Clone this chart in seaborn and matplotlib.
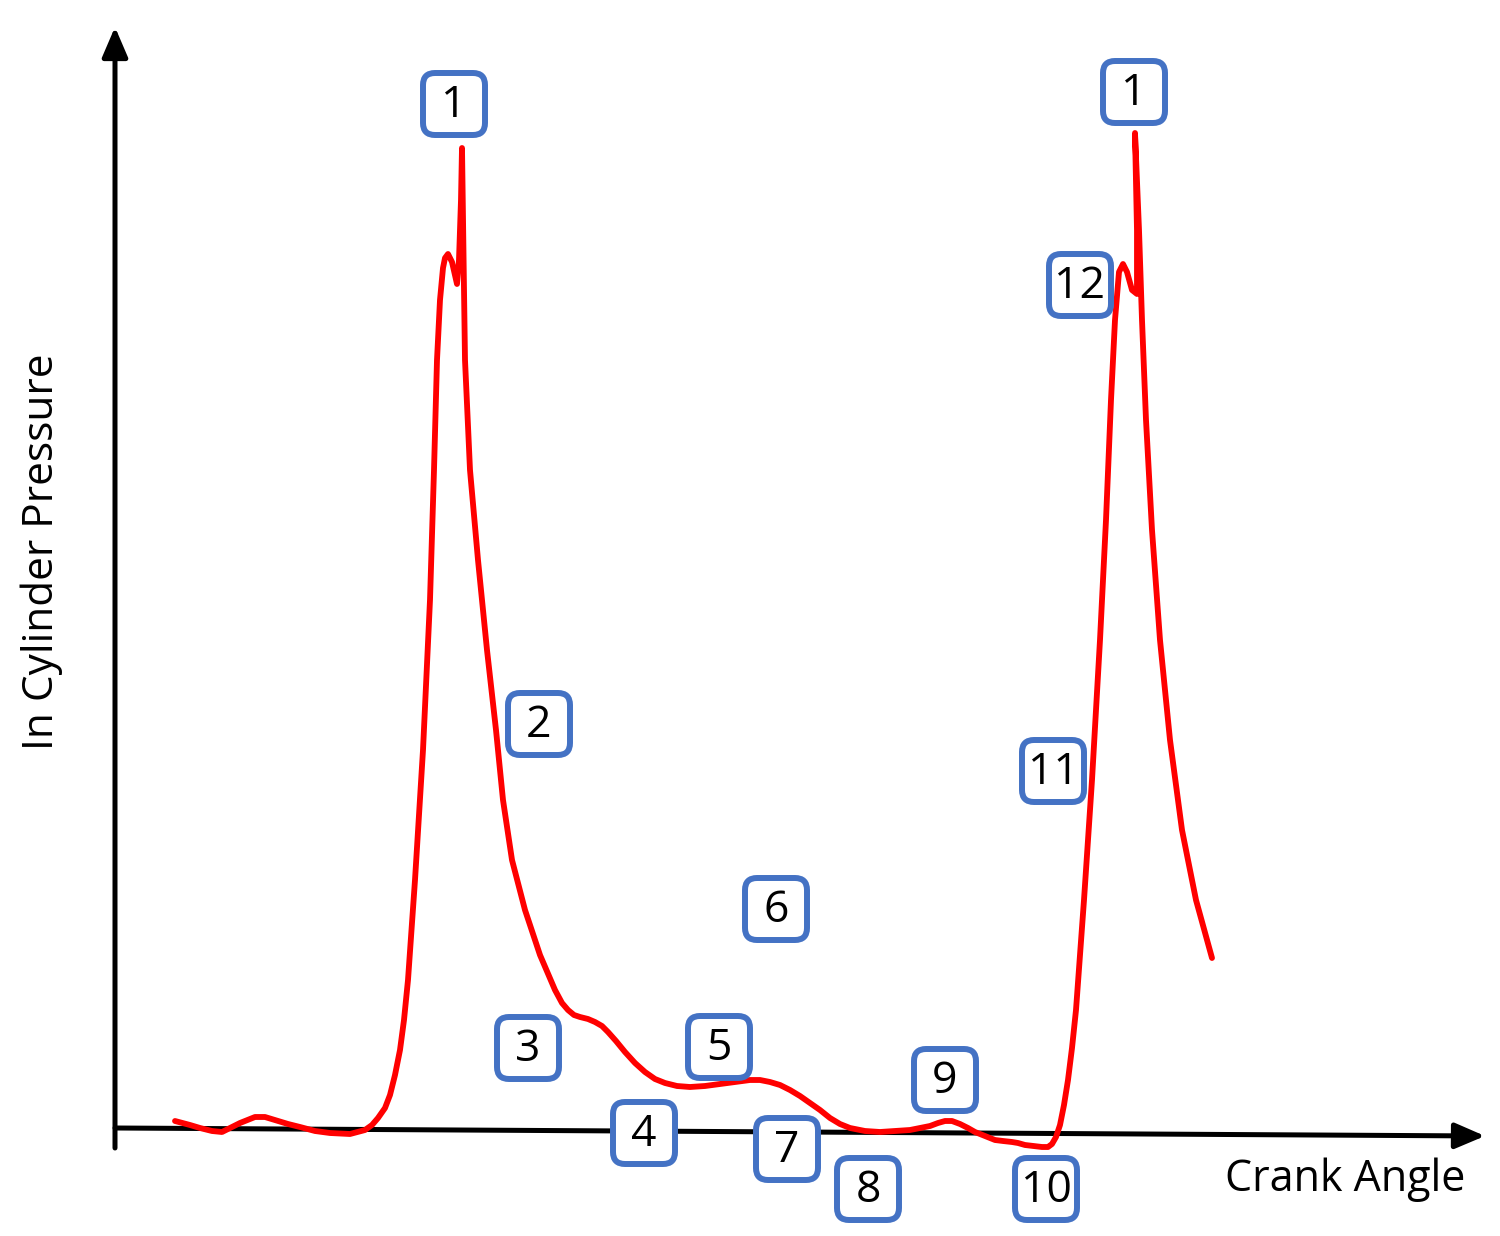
import pandas as pd
import seaborn as sns
from matplotlib import pyplot as plt
from matplotlib.patches import FancyBboxPatch

# crank angle / pressure (pressure 0 on the x axis)
crank = [175, 190, 200, 212, 222, 230, 240, 255, 265, 275, 288, 300, 315, 330,
         350, 365, 372, 378, 385, 390, 395, 400, 404, 408, 415, 423, 430, 434,
         437, 440, 443, 445, 448, 452, 457, 459, 461, 462, 463, 465, 470, 478,
         487, 496, 503, 512, 525, 540, 555, 562, 568, 574, 580, 588, 595, 602,
         608, 616, 625, 635, 645, 655, 665, 677, 690, 705, 720, 735, 750, 760,
         770, 780, 790, 800, 810, 820, 830, 840, 850, 865, 880, 895, 910, 920,
         930, 938, 945, 952, 960, 968, 975, 985, 995, 1003, 1012, 1018, 1025,
         1034, 1042, 1048, 1052, 1056, 1060, 1064, 1068, 1072, 1076, 1084,
         1092, 1100, 1106, 1111, 1115, 1119, 1123, 1127, 1132, 1137, 1137,
         1135, 1139, 1142, 1146, 1152, 1160, 1170, 1182, 1196, 1212]
pressure = [9, 5, 2, -1, -2, 2, 7, 13, 13, 10, 6, 3, -1, -3,
            -4, 0, 5, 12, 22, 35, 55, 80, 110, 150, 250, 380, 530, 660,
            770, 830, 862, 872, 876, 868, 846, 870, 930, 982, 910, 770, 660, 570,
            480, 400, 330, 270, 220, 175, 140, 127, 120, 115, 113, 111, 108, 104,
            98, 89, 78, 67, 58, 51, 47, 44, 43, 44, 46, 48, 50, 50,
            48, 45, 40, 34, 27, 20, 12, 6, 2, -1, -2, -1, 0, 2,
            4, 7, 9, 9, 6, 2, -2, -6, -10, -11, -12, -13, -15,
            -16, -17, -17, -14, -7, 5, 25, 50, 82, 120, 230,
            350, 490, 610, 730, 810, 858, 866, 858, 840, 836, 900,
            997, 900, 810, 710, 600, 490, 390, 300, 230, 172]

# numbered markers
label_text = ["1", "1", "12", "2", "11", "6", "3", "5", "9", "4", "7", "8", "10"]
label_x = [454, 1134, 1080, 539, 1053, 776, 528, 719, 945, 644, 787, 868, 1046]
label_y = [1026, 1038, 845, 406, 359, 221, 82, 83, 50, -3, -19, -59, -59]

df = pd.DataFrame({"crank": crank, "pressure": pressure})

sns.set_theme(style="white")
plt.rcParams["font.family"] = ["Open Sans", "DejaVu Sans"]

fig = plt.figure(figsize=(15, 12.36), dpi=100)
ax = fig.add_axes([0, 0, 1, 1])

# axes arrows
arrow = dict(arrowstyle="-|>,head_length=1.4,head_width=0.6", color="black",
             lw=3.6, mutation_scale=13, shrinkA=0, shrinkB=0)
ax.annotate("", xy=(1485, -6), xytext=(115, 2), arrowprops=arrow)
ax.annotate("", xy=(115, 1103), xytext=(115, -18), arrowprops=arrow)

sns.lineplot(data=df, x="crank", y="pressure", sort=False, estimator=None,
             color="#ff0000", lw=4.2, ax=ax, zorder=3)
ax.set_xlim(0, 1500)
ax.set_ylim(-106, 1130)
ax.axis("off")

for t, x, y in zip(label_text, label_x, label_y):
    box = FancyBboxPatch((x - 28, y - 28), 56, 56,
                         boxstyle="round,pad=3,rounding_size=12",
                         fc="white", ec="#4472c4", lw=4.3, zorder=4)
    ax.add_patch(box)
    ax.text(x, y - 2, t, ha="center", va="center", fontsize=32, color="black",
            zorder=5)

ax.text(1225, -50, "Crank Angle", ha="left", va="center", fontsize=31,
        color="black")
ax.text(42, 578, "In Cylinder Pressure", ha="center", va="center",
        rotation=90, fontsize=30.5, color="black")

fig.savefig("out.png", dpi=100)
